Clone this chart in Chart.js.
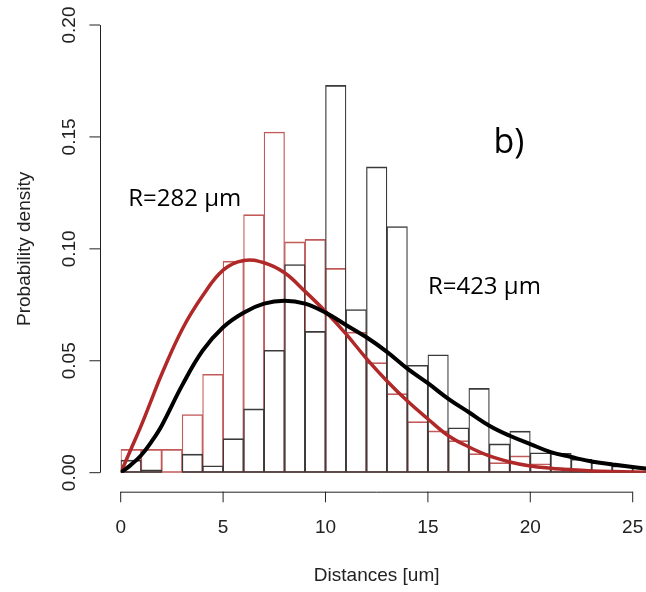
<!DOCTYPE html>
<html lang="en">
<head>
  <meta charset="UTF-8">
  <title>Distances histogram</title>
  <style>
    body {
        margin: 0;
        padding: 0;
        background: #fff;
    }
    #wrap {
        width: 646px;
        height: 592px;
    }
  </style>
</head>
<body>
  <div id="wrap">
    <canvas id="hist" width="646" height="592"></canvas>
  </div>

  <script src="https://cdn.jsdelivr.net/npm/chart.js"></script>
  <script>
    // bins of width 1, left edges
    const binLeft = [0, 1, 2, 3, 4, 5, 6, 7, 8, 9, 10, 11, 12, 13, 14, 15, 16, 17, 18, 19, 20, 21, 22, 23, 24, 25];
    const redHist = [0.0104, 0.0104, 0.0104, 0.026, 0.044, 0.0945, 0.1153, 0.1522, 0.1031, 0.1042, 0.0913, 0.0628, 0.0492,
                     0.0353, 0.0228, 0.0187, 0.0143, 0.0085, 0.0045, 0.0075, 0.004, 0.0022, 0.0015, 0.0012, 0.0007, 0.0007];
    const blackHist = [0.0056, 0.0013, 0, 0.0083, 0.0031, 0.0152, 0.0285, 0.0547, 0.093, 0.0631, 0.173, 0.0729, 0.1366,
                       0.110, 0.048, 0.0527, 0.0201, 0.0377, 0.0129, 0.0186, 0.0089, 0.0087, 0.006, 0.0045, 0.003, 0.0022];

    // density curves
    const curveX = [0, 0.5, 1, 1.5, 2, 3, 4, 5, 6, 7, 8, 9, 10, 11, 12, 13, 14, 15, 16, 17, 18, 19, 20, 21, 22, 23, 24, 25, 26];
    const redCurve = [0, 0.0105, 0.021, 0.0325, 0.044, 0.064, 0.079, 0.0905, 0.0948, 0.0938, 0.0893, 0.081, 0.072, 0.062,
                      0.051, 0.041, 0.032, 0.024, 0.0165, 0.0115, 0.0075, 0.0048, 0.003, 0.002, 0.0013, 0.0008, 0.0005, 0.0003, 0.0002];
    const blackCurve = [0, 0.0035, 0.0078, 0.0138, 0.021, 0.039, 0.0545, 0.065, 0.0715, 0.0755, 0.0768, 0.0755, 0.0715, 0.066,
                        0.0605, 0.054, 0.0465, 0.040, 0.033, 0.027, 0.021, 0.0165, 0.0128, 0.0092, 0.007, 0.005, 0.0037, 0.0025, 0.0015];

    const xTicks = [0, 5, 10, 15, 20, 25];
    const yTicks = [0, 0.05, 0.10, 0.15, 0.20];
    const yTickLabels = ['0.00', '0.05', '0.10', '0.15', '0.20'];

    const notes = [
      { text: 'R=282 \u03bcm', x: 0.37, y: 0.119, size: 24 },
      { text: 'R=423 \u03bcm', x: 15.0, y: 0.080, size: 24 },
      { text: 'b)', x: 18.2, y: 0.143, size: 34 }
    ];

    const axisFont = '19px "Liberation Sans", Arial, sans-serif';
    const axisColor = '#222';

    // R-style detached axes + labels
    const rAxes = {
      id: 'rAxes',
      afterDraw(chart) {
        const ctx = chart.ctx;
        const xs = chart.scales.x;
        const ys = chart.scales.y;
        const axisY = 491.7;
        const axisX = 100;
        const tick = 10.6;

        ctx.save();
        ctx.strokeStyle = axisColor;
        ctx.fillStyle = axisColor;
        ctx.lineWidth = 1;
        ctx.font = axisFont;

        // x axis
        ctx.beginPath();
        ctx.moveTo(xs.getPixelForValue(xTicks[0]), axisY + 0.5);
        ctx.lineTo(xs.getPixelForValue(xTicks[xTicks.length - 1]), axisY + 0.5);
        xTicks.forEach(v => {
          const px = xs.getPixelForValue(v);
          ctx.moveTo(px, axisY);
          ctx.lineTo(px, axisY + tick);
        });
        ctx.stroke();
        ctx.textAlign = 'center';
        ctx.textBaseline = 'middle';
        xTicks.forEach(v => ctx.fillText(String(v), xs.getPixelForValue(v), 528));
        ctx.fillText('Distances [um]', (xs.getPixelForValue(0) + xs.getPixelForValue(25)) / 2, 576);

        // y axis
        ctx.beginPath();
        ctx.moveTo(axisX + 0.5, ys.getPixelForValue(yTicks[0]));
        ctx.lineTo(axisX + 0.5, ys.getPixelForValue(yTicks[yTicks.length - 1]));
        yTicks.forEach(v => {
          const py = ys.getPixelForValue(v);
          ctx.moveTo(axisX, py);
          ctx.lineTo(axisX - tick, py);
        });
        ctx.stroke();
        yTicks.forEach((v, i) => {
          ctx.save();
          ctx.translate(70, ys.getPixelForValue(v));
          ctx.rotate(-Math.PI / 2);
          ctx.fillText(yTickLabels[i], 0, 0);
          ctx.restore();
        });
        ctx.save();
        ctx.translate(25, (ys.getPixelForValue(0) + ys.getPixelForValue(0.2)) / 2);
        ctx.rotate(-Math.PI / 2);
        ctx.fillText('Probability density', 0, 0);
        ctx.restore();

        // text notes inside the plot
        ctx.fillStyle = '#000';
        ctx.textAlign = 'left';
        ctx.textBaseline = 'alphabetic';
        notes.forEach(n => {
          ctx.font = n.size + 'px "Open Sans", "Noto Sans", sans-serif';
          ctx.fillText(n.text, xs.getPixelForValue(n.x), ys.getPixelForValue(n.y));
        });
        ctx.restore();
      }
    };

    const barStyle = {
      type: 'bar',
      backgroundColor: 'transparent',
      borderWidth: { left: 0.6, right: 0.6, top: 1, bottom: 1 },
      borderSkipped: false,
      grouped: false,
      barPercentage: 1,
      categoryPercentage: 1
    };

    new Chart(document.getElementById('hist'), {
      type: 'bar',
      data: {
        datasets: [
          {
            type: 'line',
            label: 'R=423',
            data: curveX.map((x, i) => ({ x: x, y: blackCurve[i] })),
            borderColor: '#000',
            borderWidth: 4,
            pointRadius: 0,
            tension: 0.4,
            order: 0
          },
          {
            type: 'line',
            label: 'R=282',
            data: curveX.map((x, i) => ({ x: x, y: redCurve[i] })),
            borderColor: '#b02828',
            borderWidth: 3.5,
            pointRadius: 0,
            tension: 0.4,
            order: 1
          },
          Object.assign({}, barStyle, {
            label: 'black hist',
            data: binLeft.map((b, i) => ({ x: b + 0.5, y: blackHist[i] })),
            borderColor: '#3a3a3a',
            order: 2
          }),
          Object.assign({}, barStyle, {
            label: 'red hist',
            data: binLeft.map((b, i) => ({ x: b + 0.5, y: redHist[i] })),
            borderColor: '#c25a5a',
            order: 3
          })
        ]
      },
      options: {
        responsive: false,
        animation: false,
        layout: { padding: { left: 120.7, right: 0, top: 25, bottom: 119.3 } },
        scales: {
          x: { type: 'linear', min: 0, max: 25.65, offset: false, display: false },
          y: { min: 0, max: 0.2, display: false }
        },
        plugins: {
          legend: { display: false },
          tooltip: { enabled: false }
        }
      },
      plugins: [rAxes]
    });
  </script>
</body>
</html>
